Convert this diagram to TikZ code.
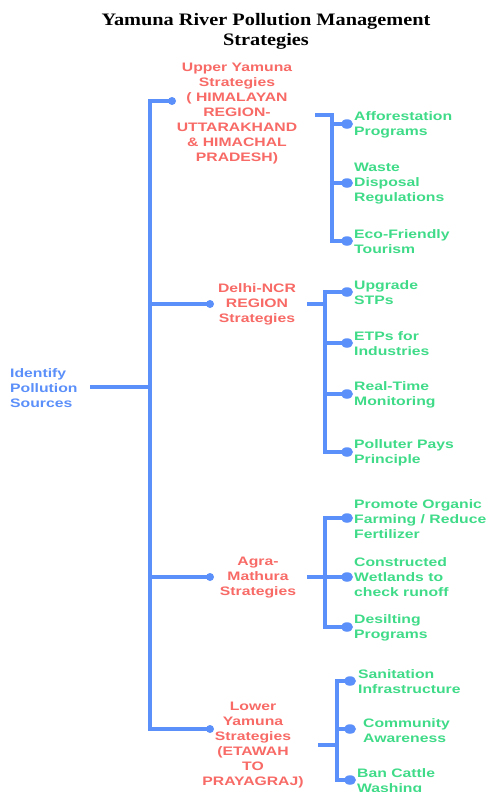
\documentclass[tikz,border=0pt]{standalone}
\usepackage{fontspec}
\setmainfont{Liberation Serif}
\newfontfamily\lblfont[FakeStretch=1.28]{Liberation Sans}
\newfontfamily\ttlfont[FakeStretch=1.16]{Liberation Serif}
\definecolor{busblue}{HTML}{5B8FF9}
\definecolor{lblred}{HTML}{F76A66}
\definecolor{lblgreen}{HTML}{3FDB88}
\definecolor{rootblue}{HTML}{5B8FF9}
\usetikzlibrary{shapes.geometric}
\tikzset{
  bus/.style={draw=busblue, line width=4pt},
  sdot/.style={circle, fill=busblue, inner sep=0pt, minimum size=8pt},
  bdot/.style={ellipse, fill=busblue, inner sep=0pt, minimum width=12pt, minimum height=9.5pt},
  region/.style={text=lblred, align=center, inner sep=0pt, font=\lblfont\bfseries\fontsize{12.3}{15}\selectfont},
  leaf/.style={text=lblgreen, align=left, anchor=west, inner sep=0pt, font=\lblfont\bfseries\fontsize{12.3}{15}\selectfont},
  rootlbl/.style={text=rootblue, align=left, anchor=west, inner sep=0pt, font=\lblfont\bfseries\fontsize{12.3}{15}\selectfont},
  titlelbl/.style={align=center, inner sep=0pt, font=\ttlfont\bfseries\fontsize{17.5}{20}\selectfont}
}
\begin{document}
\begin{tikzpicture}[x=1pt,y=-1pt]
\useasboundingbox (0,0) rectangle (489,792);
\clip (0,0) rectangle (489,792);
% title
\node[titlelbl] (title) at (266,31) {Yamuna River Pollution Management\\Strategies};
% root
\node[rootlbl] (root) at (10,388) {Identify\\Pollution\\Sources};
\coordinate (rootout) at (90,387);
% main bus coordinates
\coordinate (busT) at (150,101);
\coordinate (busM) at (150,387);
\coordinate (busD) at (150,304);
\coordinate (busA) at (150,577);
\coordinate (busB) at (150,729);
% region labels
\node[region] (up) at (237,114) {Upper Yamuna\\Strategies\\( HIMALAYAN\\REGION-\\UTTARAKHAND\\\& HIMACHAL\\PRADESH)};
\node[region] (de) at (257,304) {Delhi-NCR\\REGION\\Strategies};
\node[region] (ag) at (258,578) {Agra-\\Mathura\\Strategies};
\node[region] (lo) at (253,745) {Lower\\Yamuna\\Strategies\\(ETAWAH\\TO\\PRAYAGRAJ)};
% main bus dots
\node[sdot] (dU) at (172,101) {};
\node[sdot] (dD) at (210,304) {};
\node[sdot] (dA) at (210,577) {};
\node[sdot] (dL) at (210,729) {};
% main bus
\draw[bus] (rootout) -- (busM);
\draw[bus] (dU.center) -- (busT) -- (busB) -- (dL.center);
\draw[bus] (busD) -- (dD.center);
\draw[bus] (busA) -- (dA.center);
% ---------- Upper sub-bus
\coordinate (uS) at (315,115);
\coordinate (uT) at (332,115);
\coordinate (u1) at (332,124);
\coordinate (u2) at (332,183);
\coordinate (u3) at (332,241);
\node[bdot] (eu1) at (347,124) {};
\node[bdot] (eu2) at (347,183) {};
\node[bdot] (eu3) at (347,241) {};
\draw[bus] (uS) -- (uT) -- (u3) -- (eu3.center);
\draw[bus] (u1) -- (eu1.center);
\draw[bus] (u2) -- (eu2.center);
\node[leaf] (l1) at (354,125) {Afforestation\\Programs};
\node[leaf] (l2) at (354,184) {Waste\\Disposal\\Regulations};
\node[leaf] (l3) at (354,241.5) {Eco-Friendly\\Tourism};
% ---------- Delhi sub-bus
\coordinate (dS) at (307,304);
\coordinate (dM) at (325,304);
\coordinate (d1) at (325,292);
\coordinate (d2) at (325,343);
\coordinate (d3) at (325,394);
\coordinate (d4) at (325,452);
\node[bdot] (ed1) at (347,292) {};
\node[bdot] (ed2) at (347,343) {};
\node[bdot] (ed3) at (347,394) {};
\node[bdot] (ed4) at (347,452) {};
\draw[bus] (dS) -- (dM);
\draw[bus] (ed1.center) -- (d1) -- (d4) -- (ed4.center);
\draw[bus] (d2) -- (ed2.center);
\draw[bus] (d3) -- (ed3.center);
\node[leaf] (l4) at (354,293) {Upgrade\\STPs};
\node[leaf] (l5) at (354,343.5) {ETPs for\\Industries};
\node[leaf] (l6) at (354,394.5) {Real-Time\\Monitoring};
\node[leaf] (l7) at (354,453) {Polluter Pays\\Principle};
% ---------- Agra sub-bus
\coordinate (aS) at (307,577);
\coordinate (aM) at (325,577);
\coordinate (a1) at (325,518);
\coordinate (a3) at (325,627);
\node[bdot] (ea1) at (347,518) {};
\node[bdot] (ea2) at (347,577) {};
\node[bdot] (ea3) at (347,627) {};
\draw[bus] (aS) -- (ea2.center);
\draw[bus] (ea1.center) -- (a1) -- (a3) -- (ea3.center);
\node[leaf] (l8) at (354,519) {Promote Organic\\Farming / Reduce\\Fertilizer};
\node[leaf] (l9) at (354,577.5) {Constructed\\Wetlands to\\check runoff};
\node[leaf] (l10) at (354,627.5) {Desilting\\Programs};
% ---------- Lower sub-bus
\coordinate (lS) at (318,745);
\coordinate (lM) at (337,745);
\coordinate (o1) at (337,681);
\coordinate (o2) at (337,729);
\coordinate (o3) at (337,780);
\node[bdot] (eo1) at (350,681) {};
\node[bdot] (eo2) at (350,729) {};
\node[bdot] (eo3) at (350,780) {};
\draw[bus] (lS) -- (lM);
\draw[bus] (eo1.center) -- (o1) -- (o3) -- (eo3.center);
\draw[bus] (o2) -- (eo2.center);
\node[leaf] (l11) at (358,681.5) {Sanitation\\Infrastructure};
\node[leaf] (l12) at (363,730.5) {Community\\Awareness};
\node[leaf] (l13) at (357,781.5) {Ban Cattle\\Washing};
\end{tikzpicture}
\end{document}
